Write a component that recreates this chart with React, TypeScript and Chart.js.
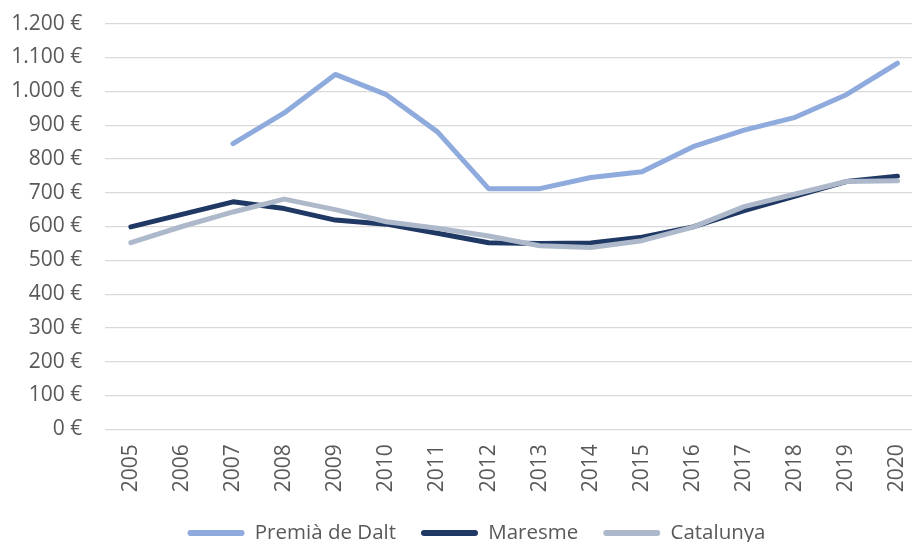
import { useEffect, useRef } from "react";
import { Chart, registerables } from "chart.js";

Chart.register(...registerables);

const years = ["2005", "2006", "2007", "2008", "2009", "2010", "2011", "2012", "2013", "2014", "2015", "2016", "2017", "2018", "2019", "2020"];
const premiaValues = [null, null, 845, 936, 1050, 990, 880, 712, 712, 745, 762, 836, 885, 923, 990, 1083];
const maresmeValues = [599, 636, 673, 653, 619, 607, 580, 552, 550, 551, 568, 599, 647, 690, 733, 749];
const catalunyaValues = [552, 600, 643, 681, 650, 614, 595, 572, 543, 538, 558, 598, 659, 696, 733, 735];

const seriesNames = ["Premià de Dalt", "Maresme", "Catalunya"];
const seriesColors = ["#8FAADC", "#203864", "#ADB9CA"];

const yMin = 0;
const yMax = 1200;
const yStep = 100;

const FONT = "'Open Sans', 'Liberation Sans', sans-serif";
const TEXT = "#595959";

const fmtEuro = (v: number) => String(v).replace(/\B(?=(\d{3})+(?!\d))/g, ".") + " €";

const LEGEND_H = 42.7;

const legendShift = {
  id: "legendShift",
  beforeLayout(chart: any) {
    const lg = chart.legend;
    if (lg && !lg.__patched) {
      const orig = lg.fit.bind(lg);
      lg.fit = function () {
        orig();
        this.height = LEGEND_H;
      };
      lg.__patched = true;
    }
  },
  afterLayout(chart: any) {
    const lg = chart.legend;
    if (!lg) return;
    const dx = 476.5 - (lg.left + lg.right) / 2;
    const p = lg.options.labels.padding;
    const fs = lg.options.labels.font.size;
    const dy = 533 - (lg.top + p + fs / 2);
    lg.left += dx;
    lg.right += dx;
    lg.top += dy;
    lg.bottom = Math.max(lg.bottom + dy, 570);
  },
};

export default function App() {
  const ref = useRef<HTMLCanvasElement | null>(null);

  useEffect(() => {
    if (!ref.current) return;
    const mk = (i: number, data: (number | null)[]) => ({
      label: seriesNames[i],
      data,
      borderColor: seriesColors[i],
      backgroundColor: seriesColors[i],
      borderWidth: 5,
      borderCapStyle: "round" as const,
      borderJoinStyle: "round" as const,
      pointRadius: 0,
      pointHoverRadius: 0,
      tension: 0,
      fill: false,
    });
    const chart = new Chart(ref.current, {
      type: "line",
      data: {
        labels: years,
        // Catalunya first so it is drawn on top (Excel-like order)
        datasets: [mk(2, catalunyaValues), mk(1, maresmeValues), mk(0, premiaValues)],
      },
      plugins: [legendShift],
      options: {
        responsive: false,
        animation: false,
        events: [],
        layout: { padding: { top: 23.7, right: 0, bottom: 0, left: 0 } },
        plugins: {
          tooltip: { enabled: false },
          legend: {
            position: "bottom",
            reverse: true,
            labels: {
              boxWidth: 57,
              boxHeight: 6,
              padding: 25,
              color: TEXT,
              font: { family: FONT, size: 20.5 },
              generateLabels: (c: any) =>
                (Chart.defaults.plugins.legend.labels.generateLabels as any)(c).map((l: any) => ({
                  ...l,
                  fillStyle: l.strokeStyle,
                  lineWidth: 0,
                  borderRadius: 3,
                })),
            },
          },
        },
        scales: {
          x: {
            type: "category",
            offset: true,
            grid: { display: false, drawTicks: true, tickLength: 15 },
            border: { display: false },
            ticks: {
              autoSkip: false,
              minRotation: 90,
              maxRotation: 90,
              padding: 0,
              color: TEXT,
              font: { family: FONT, size: 21 },
            },
            afterFit: (s: any) => {
              s.height = 542 - 429.3 - LEGEND_H;
            },
          },
          y: {
            min: yMin,
            max: yMax,
            grid: { color: "#D9D9D9", lineWidth: 1.2, drawTicks: true, tickLength: 23, tickColor: "rgba(0,0,0,0)" },
            border: { display: false },
            ticks: {
              stepSize: yStep,
              padding: 0,
              color: TEXT,
              font: { family: FONT, size: 21 },
              callback: (v: any) => fmtEuro(Number(v)),
            },
            afterFit: (s: any) => {
              s.width = 105.3;
            },
          },
        },
      },
    });
    return () => chart.destroy();
  }, []);

  return (
    <div style={{ position: "fixed", left: 0, top: 0, width: 912, height: 542, overflow: "hidden", background: "#fff" }}>
      <canvas ref={ref} width={923} height={542} style={{ display: "block" }} />
    </div>
  );
}
